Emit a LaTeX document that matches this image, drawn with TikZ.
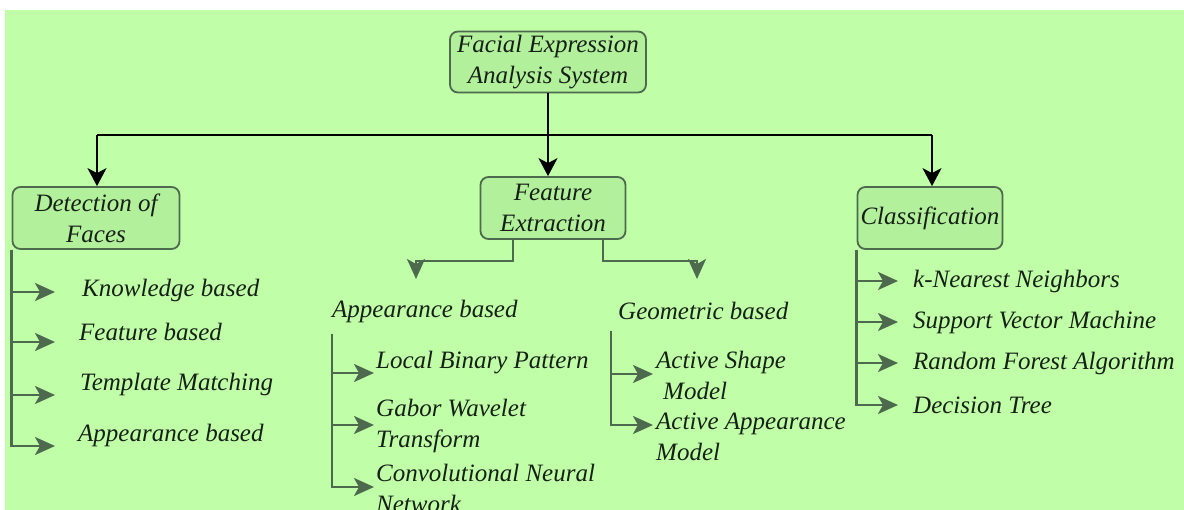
\documentclass[tikz,border=0pt]{standalone}
\usepackage{fontspec}
\setmainfont{Liberation Serif}
\usepackage{xcolor}
\usepackage{tikz}
\usetikzlibrary{arrows.meta}

\definecolor{bgGreen}{HTML}{C0FFA8}
\definecolor{boxGreen}{HTML}{B2F09C}
\definecolor{lineGreen}{HTML}{4E6A4E}
\definecolor{textDark}{HTML}{162016}

\begin{document}
\begin{tikzpicture}[x=1pt, y=-1pt,
    every node/.style={font=\fontsize{25}{31}\selectfont\itshape, text=textDark},
    box/.style={draw=lineGreen, fill=boxGreen, line width=1.8pt, rounded corners=8pt, align=center, inner sep=0pt},
    item/.style={anchor=west, align=left, inner sep=0pt},
    main/.style={-{Stealth[length=18pt,width=19pt,inset=5pt]}, line width=2.2pt, black},
    sub/.style={-{Stealth[length=20pt,width=18pt,inset=5pt]}, line width=2.4pt, lineGreen}]

    \useasboundingbox (0,0) rectangle (1184,510);
    \fill [bgGreen] (5,10) rectangle (1184,510);

    \node [box, minimum width=196pt, minimum height=61pt] (fea) at (548,62) {Facial Expression\\Analysis System};
    \node [box, minimum width=167pt, minimum height=62pt] (det) at (96,218) {Detection of\\Faces};
    \node [box, minimum width=145pt, minimum height=62pt] (fex) at (553,208) {Feature\\Extraction};
    \node [box, minimum width=145pt, minimum height=62pt] (cls) at (930,218) {Classification};

    \coordinate (hl) at (97,135);
    \coordinate (hr) at (932,135);
    \draw [main] (fea.south) -- (fea.south |- fex.north);
    \draw [line width=2.2pt, black] (hl) -- (hr);
    \draw [main] (hl) -- (hl |- det.north);
    \draw [main] (hr) -- (hr |- cls.north);

    % detection of faces
    \node [item] (kb) at (82,290) {Knowledge based};
    \node [item] (fb) at (79,332) {Feature based};
    \node [item] (tm) at (80,384) {Template Matching};
    \node [item] (ab) at (78,435) {Appearance based};

    \coordinate (d1) at (55,292);
    \coordinate (d2) at (55,342);
    \coordinate (d3) at (55,395);
    \coordinate (d4) at (55,446);
    \draw [sub] (det.south west) |- (d1);
    \draw [sub] (det.south west) |- (d2);
    \draw [sub] (det.south west) |- (d3);
    \draw [sub] (det.south west) |- (d4);

    % feature extraction
    \coordinate (fl) at (416,279);
    \coordinate (fr) at (697,279);
    \draw [sub] ([xshift=-40pt]fex.south) -- ++(0,21) -| (fl);
    \draw [sub] ([xshift=50pt]fex.south) -- ++(0,21) -| (fr);

    \node [item] (app) at (332,311) {Appearance based};
    \node [item] (geo) at (618,311) {Geometric based};

    \node [item] (lbp) at (376,363) {Local Binary Pattern};
    \node [item] (gwt) at (376,426) {Gabor Wavelet\\Transform};
    \node [item] (cnn) at (376,488) {Convolutional Neural\\Network};

    \coordinate (a1) at (374,373);
    \coordinate (a2) at (374,425);
    \coordinate (a3) at (374,487);
    \draw [sub] ([yshift=-11pt]app.south west) |- (a1);
    \draw [sub] ([yshift=-11pt]app.south west) |- (a2);
    \draw [sub] ([yshift=-11pt]app.south west) |- (a3);

    \node [item] (asm) at (656,375) {Active Shape\\\hspace*{7pt}Model};
    \node [item] (aam) at (656,437) {Active Appearance\\Model};

    \coordinate (g1) at (653,374);
    \coordinate (g2) at (653,425);
    \draw [sub] ([xshift=-7pt,yshift=-11pt]geo.south west) |- (g1);
    \draw [sub] ([xshift=-7pt,yshift=-11pt]geo.south west) |- (g2);

    % classification
    \node [item] (knn) at (913,281) {k-Nearest Neighbors};
    \node [item] (svm) at (913,322) {Support Vector Machine};
    \node [item] (rfa) at (913,363) {Random Forest Algorithm};
    \node [item] (dct) at (913,405) {Decision Tree};

    \coordinate (c1) at (898,281);
    \coordinate (c2) at (898,322);
    \coordinate (c3) at (898,363);
    \coordinate (c4) at (898,405);
    \draw [sub] (cls.south west) |- (c1);
    \draw [sub] (cls.south west) |- (c2);
    \draw [sub] (cls.south west) |- (c3);
    \draw [sub] (cls.south west) |- (c4);

\end{tikzpicture}
\end{document}
